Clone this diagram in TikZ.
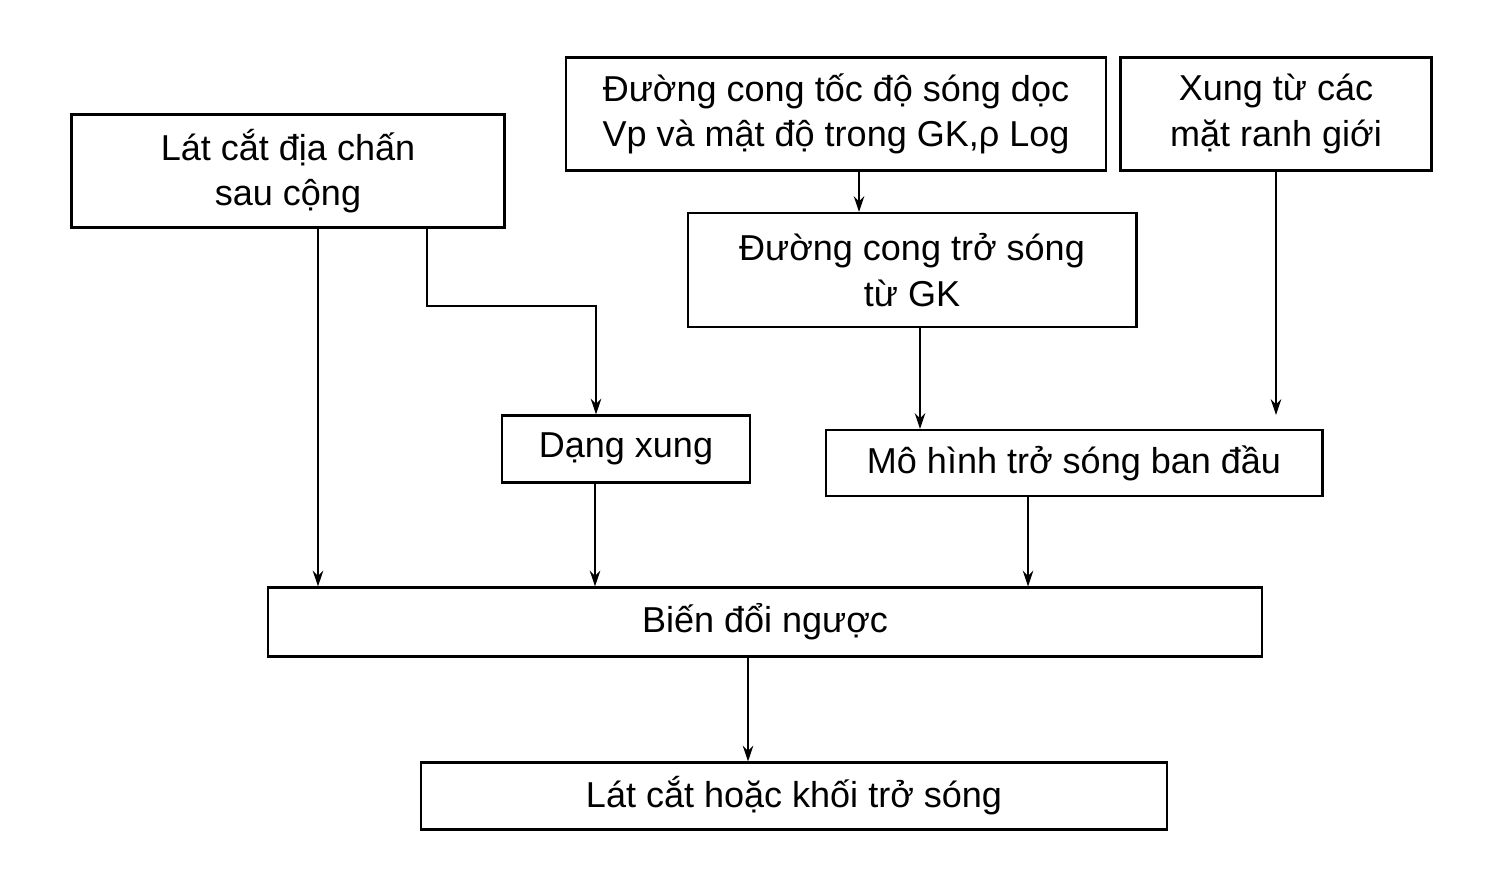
\documentclass[tikz,border=0pt]{standalone}
\usepackage{fontspec}
\setmainfont{Liberation Sans}
\usetikzlibrary{arrows.meta}
\begin{document}
\begin{tikzpicture}[x=0.02cm,y=-0.02cm,
box/.style={draw, line width=1.2pt, align=center, inner sep=0pt,
    font=\fontsize{20.5}{26}\selectfont},
link/.style={line width=0.9pt, -{Stealth[length=9pt,width=6pt]}}]
\useasboundingbox (0,0) rectangle (1500,879);

% Define the boxes
\node[box, minimum width=8.66cm, minimum height=2.26cm] (seis) at (288,171) {Lát cắt địa chấn\\sau cộng};
\node[box, minimum width=10.8cm, minimum height=2.26cm] (vlog) at (836,114) {Đường cong tốc độ sóng dọc\\Vp và mật độ trong GK,ρ Log};
\node[box, minimum width=6.22cm, minimum height=2.26cm] (pulse) at (1276,114) {Xung từ các\\mặt ranh giới};
\node[box, minimum width=8.98cm, minimum height=2.28cm] (imp) at (912,270) {Đường cong trở sóng\\từ GK};
\node[box, minimum width=4.96cm, minimum height=1.34cm] (wave) at (626,449) {Dạng xung};
\node[box, minimum width=9.94cm, minimum height=1.32cm] (model) at (1074,463) {Mô hình trở sóng ban đầu};
\node[box, minimum width=19.88cm, minimum height=1.38cm] (inv) at (765,622) {Biến đổi ngược};
\node[box, minimum width=14.94cm, minimum height=1.34cm] (res) at (794,796) {Lát cắt hoặc khối trở sóng};

\coordinate (pend) at (1276,415);

% Connectors
\draw[link] (seis.south -| 318,0) -- (inv.north -| 318,0);
\draw[link] (seis.south -| 427,0) |- (596,306) -- (wave.north -| 596,0);
\draw[link] (vlog.south -| 859,0) -- (imp.north -| 859,0);
\draw[link] (pulse.south) -- (pend);
\draw[link] (imp.south -| 920,0) -- (model.north -| 920,0);
\draw[link] (wave.south -| 595,0) -- (inv.north -| 595,0);
\draw[link] (model.south -| 1028,0) -- (inv.north -| 1028,0);
\draw[link] (inv.south -| 748,0) -- (res.north -| 748,0);
\end{tikzpicture}
\end{document}
